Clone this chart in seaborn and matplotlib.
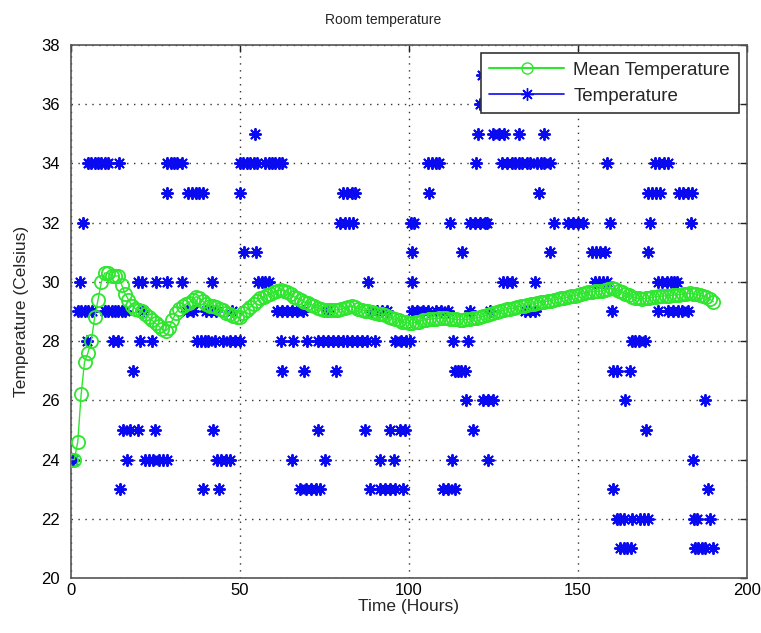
import numpy as np
import pandas as pd
import matplotlib
matplotlib.use("Agg")
import matplotlib.pyplot as plt
import seaborn as sns
from matplotlib.lines import Line2D

# hours at which each temperature reading (Celsius) was seen
hours_21 = [162.4, 163.5, 164.6, 165.8, 184.6, 185.6, 186.6, 187.6, 189.8]
hours_22 = [161.5, 162.5, 163.5, 165.9, 168.3, 169.5, 170.7, 184.3, 185.2, 189]
hours_23 = [14.5, 39, 43.8, 67.8, 69.5, 71, 72.5, 73.7, 88.5, 91.4, 93, 94.5, 96, 98.2,
            110, 111.5, 113.6, 160.4, 188.5]
hours_24 = [0.6, 16.5, 22, 23, 24.3, 26, 27.2, 28.4, 43.2, 44.5, 45.8, 47, 65.4, 75.1,
            91.4, 95.6, 112.7, 123.4, 184]
hours_25 = [15.5, 17.5, 19.9, 24.9, 42, 73, 87, 94.4, 97.3, 98.8, 119, 170]
hours_26 = [117, 122, 123.5, 125, 164, 187.6]
hours_27 = [18.3, 62.4, 69, 78.4, 113.6, 114.5, 115.5, 116.5, 160.4, 161.5, 165.4]
hours_28 = [4.6, 12.5, 14, 20.4, 23.9, 37.2, 38.5, 39.5, 40.6, 42.6, 45, 47, 48.5, 50,
            62, 65.7, 69.8, 73, 74.5, 76, 77.5, 79, 80.5, 81.6, 83, 84.5, 86, 87.6, 90,
            95.8, 97.5, 99, 100.3, 113, 117.5, 166, 167, 168, 169.8]
hours_29 = [2, 3, 4, 5, 6.2, 10, 11, 12, 13, 14, 15, 16, 21.3, 34.3, 36, 40, 41.5, 43,
            47.6, 61, 62.5, 64, 65.5, 67, 68.6, 75.7, 89, 90.5, 92, 93.5, 101, 102.5,
            104, 105.5, 108, 109.5, 111.5, 118, 124, 134.3, 135.8, 137.3, 160, 173.7,
            176.6, 178, 179.5, 180.8, 182.5]
hours_30 = [2.7, 19.8, 21, 25, 28.4, 32.8, 41.7, 55.4, 56.5, 57.5, 58.5, 88, 101, 127.8,
            129, 130.5, 137.3, 155, 156.2, 157.4, 158.6, 173.7, 175, 176.3, 177.5,
            178.5, 179.3]
hours_31 = [51.3, 54.6, 100.9, 115.7, 141.7, 154, 155.3, 156.6, 158, 170.7]
hours_32 = [3.5, 79.6, 81, 82.2, 83.4, 100.5, 101.5, 112, 118, 119.5, 121, 122.5, 123,
            143, 147, 148.5, 150, 151.5, 159.5, 171.3, 183.4]
hours_33 = [28.4, 34.6, 35.8, 37, 38, 39, 50, 80.5, 81.7, 83, 84, 106, 138.5, 170.7,
            171.8, 173, 174.3, 180, 181.2, 182.5, 183.7]
hours_34 = [5, 6, 7, 8, 9, 10, 11, 14.2, 28.3, 29.5, 30.5, 31.5, 32.8, 50, 51, 52, 53,
            54, 55, 57.4, 58.5, 59.5, 60.5, 61.5, 62.4, 105.6, 106.8, 108, 109, 119.8,
            127.5, 129, 130.5, 131.5, 132.5, 133.5, 134.8, 135.8, 138, 139, 140, 141.7,
            158.6, 172.8, 174, 175.5, 176.6]
hours_35 = [54.4, 120.3, 125, 126.5, 128, 132.5, 140]
hours_36 = [121]
hours_37 = [121.5]

levels = {21: hours_21, 22: hours_22, 23: hours_23, 24: hours_24, 25: hours_25,
          26: hours_26, 27: hours_27, 28: hours_28, 29: hours_29, 30: hours_30,
          31: hours_31, 32: hours_32, 33: hours_33, 34: hours_34, 35: hours_35,
          36: hours_36, 37: hours_37}

# running mean temperature, read once per hour
mean_hours = list(range(0, 191))
mean_temp = [
    24.0, 24.0, 24.6, 26.2, 27.3, 27.6, 28.0, 28.8, 29.4, 30.0,
    30.3, 30.3, 30.2, 30.2, 30.2, 29.9, 29.6, 29.4, 29.2, 29.1,
    29.05, 29.0, 28.9, 28.8, 28.7, 28.6, 28.5, 28.4, 28.35, 28.45,
    28.7, 28.95, 29.1, 29.2, 29.25, 29.3, 29.4, 29.5, 29.45, 29.35,
    29.25, 29.2, 29.2, 29.15, 29.1, 29.05, 28.95, 28.9, 28.85, 28.8,
    28.8, 28.95, 29.05, 29.15, 29.25, 29.35, 29.45, 29.5, 29.55, 29.6,
    29.65, 29.7, 29.72, 29.7, 29.65, 29.58, 29.5, 29.45, 29.4, 29.32,
    29.28, 29.23, 29.18, 29.12, 29.08, 29.06, 29.05, 29.05, 29.05, 29.06,
    29.08, 29.12, 29.15, 29.17, 29.14, 29.1, 29.06, 29.03, 29.0, 28.98,
    28.95, 28.92, 28.9, 28.88, 28.83, 28.78, 28.73, 28.7, 28.66, 28.63,
    28.61, 28.61, 28.63, 28.66, 28.7, 28.72, 28.74, 28.75, 28.76, 28.77,
    28.78, 28.77, 28.76, 28.75, 28.73, 28.72, 28.72, 28.73, 28.75, 28.77,
    28.78, 28.81, 28.84, 28.87, 28.9, 28.94, 28.97, 29.0, 29.04, 29.07,
    29.1, 29.12, 29.15, 29.17, 29.2, 29.22, 29.24, 29.27, 29.29, 29.31,
    29.33, 29.35, 29.37, 29.39, 29.42, 29.44, 29.46, 29.49, 29.51, 29.54,
    29.56, 29.6, 29.62, 29.65, 29.67, 29.68, 29.68, 29.7, 29.73, 29.76,
    29.78, 29.75, 29.7, 29.65, 29.6, 29.55, 29.5, 29.47, 29.44, 29.43,
    29.44, 29.46, 29.48, 29.5, 29.51, 29.52, 29.53, 29.54, 29.55, 29.56,
    29.57, 29.58, 29.6, 29.61, 29.6, 29.58, 29.55, 29.52, 29.48, 29.42,
    29.33,
]

x_ticks = [0, 50, 100, 150, 200]
y_ticks = [20, 22, 24, 26, 28, 30, 32, 34, 36, 38]

rows = []
for temp, hrs in levels.items():
    for h in hrs:
        rows.append({"Hours": h, "Temperature": temp})
df_temp = pd.DataFrame(rows)
df_mean = pd.DataFrame({"Hours": mean_hours, "Mean": mean_temp})

sns.set_style("white")
plt.rcParams["font.family"] = ["Liberation Sans", "DejaVu Sans"]

fig = plt.figure(figsize=(7.61, 6.33), dpi=100)
ax = fig.add_axes([0.0933, 0.0869, 0.8883, 0.842])

green = "#2ee62e"
blue = "#0a0af0"

sns.scatterplot(data=df_temp, x="Hours", y="Temperature", marker=(8, 2, 0), s=65,
                color=blue, edgecolor=blue, linewidth=1.4, ax=ax, zorder=2, legend=False)
sns.lineplot(data=df_mean, x="Hours", y="Mean", color=green, marker="o", markersize=9.5,
             markerfacecolor="none", markeredgecolor=green, markeredgewidth=1.3,
             linewidth=1.0, ax=ax, zorder=3, legend=False)

ax.set_xlim(0, 200)
ax.set_ylim(20, 38)
ax.set_xticks(x_ticks)
ax.set_yticks(y_ticks)
ax.tick_params(direction="in", length=5, width=1, top=True, right=True,
               labelsize=12, colors="#222222", labelcolor="black")
ax.tick_params(axis="y", pad=8)
ax.grid(True, linestyle=(0, (1, 4)), color="#333333", linewidth=1.0)
for sp in ax.spines.values():
    sp.set_color("#555555")
    sp.set_linewidth(1.2)

ax.set_xlabel("Time (Hours)", fontsize=12.5, labelpad=1)
ax.set_ylabel("Temperature (Celsius)", fontsize=12.5, labelpad=9)
fig.text(0.503, 0.969, "Room temperature", fontsize=10, ha="center", va="center")

handles = [
    Line2D([], [], color=green, marker="o", markerfacecolor="none", markersize=8,
           linewidth=1.5, label="Mean Temperature"),
    Line2D([], [], color=blue, marker=(8, 2, 0), markersize=9, linewidth=1.2,
           label="Temperature"),
]
leg = ax.legend(handles=handles, loc="upper right", fontsize=13.5, frameon=True,
                fancybox=False, framealpha=1, edgecolor="#333333", handlelength=4.0,
                handletextpad=0.5, borderaxespad=0.45, borderpad=0.45, labelspacing=0.45)
leg.get_frame().set_linewidth(1.2)

fig.savefig("out.png", dpi=100)
